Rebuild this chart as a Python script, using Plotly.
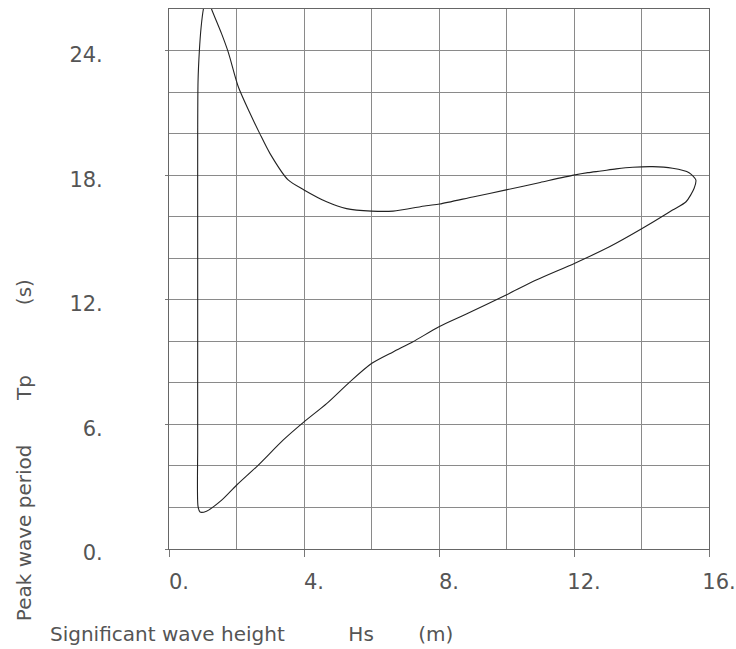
import plotly.graph_objects as go

# Contour of significant wave height (Hs) vs peak wave period (Tp), traced around the closed loop
hs = [0.92, 0.86, 0.85, 0.85, 0.85, 0.85, 0.86, 0.90, 0.95, 1.02, 1.10, 1.18, 1.26,
      1.56, 1.76, 2.05, 2.40, 2.69, 2.99, 3.53, 4.00, 4.67, 5.26, 6.00, 6.64, 7.62,
      8.02, 9.00, 9.99, 11.00, 11.99, 12.41, 12.80, 13.25, 13.74, 14.33, 14.92, 15.41,
      15.61, 15.56, 15.32, 14.92, 14.03, 13.05, 12.01, 10.88, 9.99, 8.81, 8.00, 7.23,
      6.64, 6.00, 5.36, 4.67, 4.00, 3.38, 2.64, 2.00, 1.56, 1.11, 0.92]
tp = [1.78, 2.05, 5.0, 10.0, 15.0, 20.0, 22.5, 24.0, 25.1, 26.0, 26.5, 26.4, 26.0,
      24.8, 23.9, 22.27, 20.98, 20.0, 19.05, 17.77, 17.29, 16.72, 16.39, 16.27, 16.27, 16.53,
      16.61, 16.95, 17.29, 17.65, 18.0, 18.12, 18.2, 18.30, 18.38, 18.41, 18.33, 18.12,
      17.77, 17.37, 16.72, 16.32, 15.44, 14.55, 13.75, 12.95, 12.23, 11.31, 10.7, 9.98,
      9.49, 8.93, 8.05, 7.0, 6.12, 5.24, 4.03, 3.07, 2.35, 1.82, 1.78]

x_tickvals = [0, 4, 8, 12, 16]
x_ticktext = ["0.", "4.", "8.", "12.", "16."]
y_tickvals = [0, 6, 12, 18, 24]
y_ticktext = ["0.", "6.", "12.", "18.", "24."]

NB = "\u00a0"
x_title = "Significant wave height" + NB * 10 + "Hs" + NB * 7 + "(m)"
y_title = "Peak wave period" + NB * 7 + "Tp" + NB * 11 + "(s)"

fig = go.Figure()
fig.add_trace(go.Scatter(x=hs, y=tp, mode="lines",
                         line=dict(color="#222222", width=1.1, shape="spline", smoothing=0.7),
                         showlegend=False, hoverinfo="skip"))

font_main = "DejaVu Sans, sans-serif"
grid_col = "#8a8a8a"
fig.update_layout(
    width=736, height=649,
    margin=dict(l=169, r=27, t=9, b=100, autoexpand=False),
    paper_bgcolor="white", plot_bgcolor="white",
    font=dict(family=font_main, color="#555555"),
    xaxis=dict(range=[0, 16], tickvals=x_tickvals, ticktext=x_ticktext,
               ticks="outside", ticklen=7, tickcolor="#777777", tickwidth=1,
               showgrid=True, gridcolor=grid_col, gridwidth=1,
               showline=True, linecolor="#666666", linewidth=1, mirror=True,
               zeroline=False,
               tickfont=dict(size=21, color="#555555"),
               ticklabelshift=10, ticklabelstandoff=7, ticklabeloverflow="allow",
               minor=dict(dtick=2, showgrid=True, gridcolor=grid_col, gridwidth=1, ticks="")),
    yaxis=dict(range=[0, 26], tickvals=y_tickvals, ticktext=y_ticktext,
               ticks="outside", ticklen=3, tickcolor="#777777", tickwidth=1,
               showgrid=True, gridcolor=grid_col, gridwidth=1,
               showline=True, linecolor="#666666", linewidth=1, mirror=True,
               zeroline=False,
               tickfont=dict(size=21, color="#555555"),
               ticklabelshift=4, ticklabelstandoff=58, ticklabeloverflow="allow",
               minor=dict(dtick=2, showgrid=True, gridcolor=grid_col, gridwidth=1, ticks="")),
    annotations=[
        dict(text=x_title, xref="paper", yref="paper", x=-0.224, y=-0.157,
             xanchor="left", yanchor="middle", showarrow=False,
             font=dict(size=20, color="#555555", family=font_main)),
        dict(text=y_title, xref="paper", yref="paper", x=-0.2685, y=0.183,
             xanchor="center", yanchor="middle", textangle=-90, showarrow=False,
             font=dict(size=20, color="#555555", family=font_main)),
    ],
)

fig.write_html("out.html", config={"displayModeBar": False},
               post_script="document.body.style.margin='0px';document.body.style.padding='0px';")
